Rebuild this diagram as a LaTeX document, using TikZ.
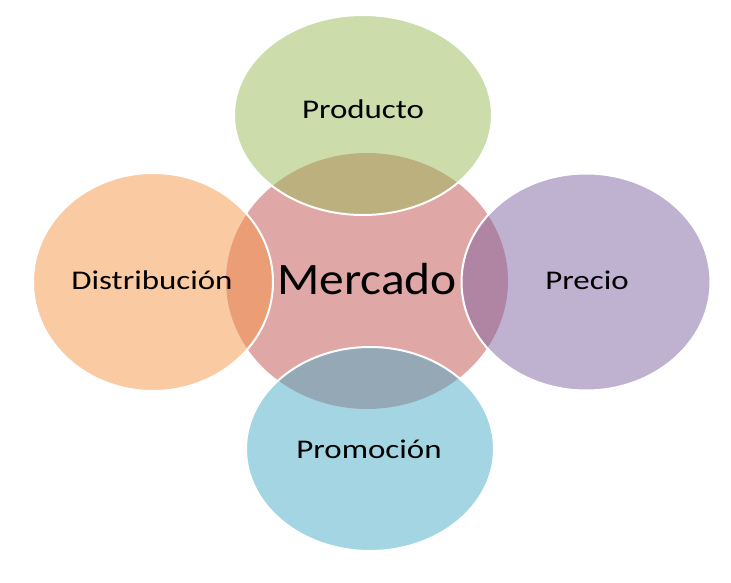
\documentclass[tikz,border=0pt]{standalone}
\usepackage{fontspec}
\setmainfont{Carlito}
\usetikzlibrary{shapes.geometric}
\definecolor{cRed}{HTML}{C0504D}
\definecolor{cGreen}{HTML}{9BBB59}
\definecolor{cOrange}{HTML}{F79646}
\definecolor{cPurple}{HTML}{8064A2}
\definecolor{cAqua}{HTML}{4BACC6}
\begin{document}
\begin{tikzpicture}[x=1pt,y=-1pt,
  blob/.style={ellipse, inner sep=0pt, fill opacity=0.5},
  sat/.style={blob, draw=white, line width=2pt, draw opacity=1},
  lbl/.style={anchor=base, inner sep=0pt, text=black, font=\fontsize{27}{32}\selectfont},
  big/.style={anchor=base, inner sep=0pt, text=black, font=\fontsize{45}{54}\selectfont}]
\useasboundingbox (0,0) rectangle (731,583);
\fill[white] (0,0) rectangle (731,583);
\node[blob, fill=cRed, minimum width=282pt, minimum height=256pt] (merc) at (367,281) {};
\node[sat, fill=cGreen, minimum width=258pt, minimum height=200pt] (prod) at (363,115) {};
\node[sat, fill=cOrange, minimum width=240pt, minimum height=218pt] (dist) at (153,282) {};
\node[sat, fill=cPurple, minimum width=249pt, minimum height=217pt] (prec) at (586,282) {};
\node[sat, fill=cAqua, minimum width=248pt, minimum height=204pt] (prom) at (370,449) {};
\node[lbl] (tprod) at (363,119) {\scalebox{1.22}[1]{Producto}};
\node[lbl] (tdist) at (152,289) {\scalebox{1.22}[1]{Distribución}};
\node[lbl] (tprec) at (587,289) {\scalebox{1.22}[1]{Precio}};
\node[lbl] (tprom) at (369,458) {\scalebox{1.22}[1]{Promoción}};
\node[big] (tmerc) at (367,294) {\scalebox{1.1}[1]{Mercado}};
\end{tikzpicture}
\end{document}
